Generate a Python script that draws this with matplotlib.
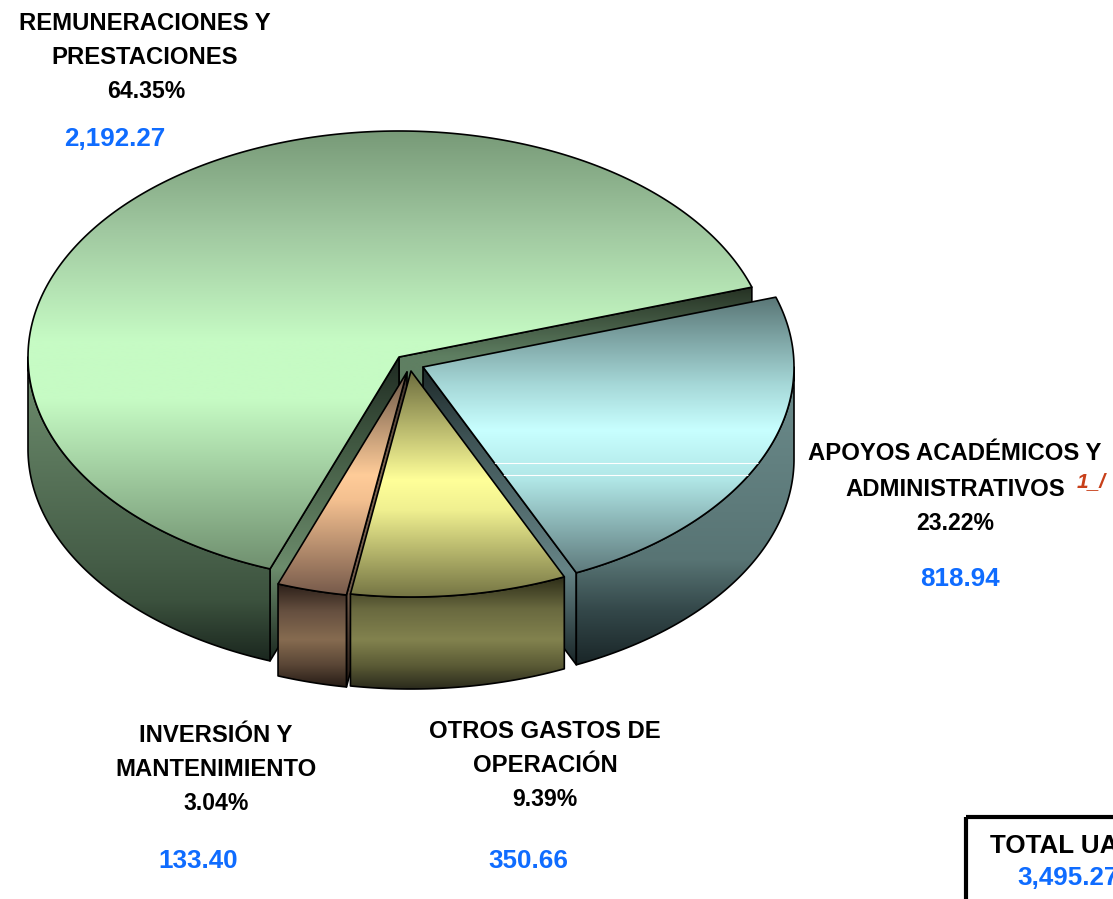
import matplotlib
matplotlib.use('Agg')
import matplotlib.pyplot as plt
import numpy as np
from matplotlib.colors import to_rgb
from matplotlib.patches import Polygon, Rectangle

plt.rcParams['font.family'] = ['Liberation Sans', 'DejaVu Sans']

# data
percents = [64.35, 3.04, 9.39, 23.22]
amounts = ['2,192.27', '133.40', '350.66', '818.94']
total = '3,495.27'

# pie geometry, in pixels
START = 18.0
RX, RY = 371, 226
DEPTH = 92
centers = [(399, 357), (407, 372), (411, 371), (423, 367)]
draw_order = [0, 3, 1, 2]

# colour stops: (pixel y, colour)
top_stops = [
    [(131, '#789a78'), (230, '#a0c8a0'), (340, '#c6fbc4'), (400, '#c6fbc4'), (570, '#6f8f6f')],
    [(372, '#6a5646'), (475, '#ffcc99'), (500, '#f4c090'), (596, '#75594a')],
    [(373, '#6f6f40'), (480, '#ffff99'), (510, '#f0f090'), (599, '#727242')],
    [(298, '#5b7878'), (385, '#a6d8d8'), (430, '#c8ffff'), (480, '#b0e6e6'), (572, '#5f7b7d')],
]
wall_stops = [
    [(357, '#6f8f6f'), (560, '#465e48'), (600, '#3c523e'), (662, '#1a261e')],
    [(584, '#2a1e18'), (612, '#665040'), (640, '#866b50'), (665, '#5a4636'), (688, '#241a14')],
    [(576, '#2a2a16'), (610, '#6a6a40'), (640, '#82824e'), (665, '#5c5c36'), (691, '#26261a')],
    [(368, '#6c8c8c'), (560, '#587474'), (610, '#34484a'), (664, '#1a2628')],
]
# faces at the first and last angle of each slice, None where the face is hidden
cut_start_stops = [
    [(288, '#263224'), (357, '#5f7f62'), (450, '#5f7f62')],
    None,
    None,
    [(368, '#1e2a2a'), (440, '#3f5456'), (570, '#668486'), (664, '#1a2628')],
]
cut_end_stops = [
    [(357, '#1f2a22'), (440, '#3f5640'), (568, '#6c8c6c'), (662, '#1a261e')],
    [(372, '#3a2e28'), (470, '#7e6650'), (595, '#6e5848'), (687, '#241a14')],
    None,
    None,
]

fig, ax = plt.subplots(figsize=(11.13, 8.99), dpi=100)
fig.subplots_adjust(0, 0, 1, 1)
ax.set_xlim(0, 1113)
ax.set_ylim(899, 0)
ax.axis('off')
ax.set_autoscale_on(False)

order = [10]


def draw_shape(verts, stops):
    verts = np.array(verts)
    xmin, ymin = verts.min(axis=0)
    xmax, ymax = verts.max(axis=0)
    rows = np.linspace(ymin, ymax, 300)
    ys = [s[0] for s in stops]
    cols = np.array([to_rgb(s[1]) for s in stops])
    grad = np.stack([np.interp(rows, ys, cols[:, i]) for i in range(3)], axis=1)[:, None, :]
    order[0] += 1
    im = ax.imshow(grad, extent=(xmin, xmax, ymax, ymin), origin='upper', aspect='auto',
                   interpolation='bilinear', zorder=order[0])
    clip = Polygon(verts, closed=True, transform=ax.transData)
    im.set_clip_path(clip)
    order[0] += 1
    ax.add_patch(Polygon(verts, closed=True, fill=False, edgecolor='black', linewidth=1.2,
                         joinstyle='round', zorder=order[0]))


def arc(center, a1, a2):
    t = np.radians(np.linspace(a1, a2, max(int(abs(a2 - a1)) * 2, 2)))
    return np.column_stack([center[0] + RX * np.cos(t), center[1] - RY * np.sin(t)])


# slices go counter clockwise from START
angles = START + np.cumsum([0] + percents) * 3.6
shift = np.array([0, DEPTH])

for i in draw_order:
    a1, a2 = angles[i], angles[i + 1]
    c = np.array(centers[i])

    # cut faces
    for ang, stops in ((a1, cut_start_stops[i]), (a2, cut_end_stops[i])):
        if stops is None:
            continue
        p = arc(c, ang, ang + 0.001)[0]
        draw_shape([c, p, p + shift, c + shift], stops)

    # outer wall, only the front half of the ellipse shows
    w1, w2 = max(a1, 180), min(a2, 360)
    if w2 > w1:
        edge = arc(c, w1, w2)
        draw_shape(np.vstack([edge, (edge + shift)[::-1]]), wall_stops[i])

    # top face
    draw_shape(np.vstack([c, arc(c, a1, a2)]), top_stops[i])

    # two thin white lines on the last slice
    if i == 3:
        clip = Polygon(np.vstack([c, arc(c, a1, a2)]), closed=True, transform=ax.transData)
        for y in (463, 475):
            line, = ax.plot([c[0], c[0] + RX], [y, y], color='white', lw=0.8, zorder=order[0])
            line.set_clip_path(clip)

# labels
black = dict(color='black', fontweight='bold', ha='center', va='center', zorder=100)
blue = dict(color='#0f6cff', fontweight='bold', ha='center', va='center', zorder=100)

ax.text(145, 23, 'REMUNERACIONES Y', fontsize=17.2, **black)
ax.text(145, 57, 'PRESTACIONES', fontsize=17.2, **black)
ax.text(146, 91, f'{percents[0]:.2f}%', fontsize=16.6, **black)
ax.text(115, 139, amounts[0], fontsize=18.7, **blue)

ax.text(955, 454, 'APOYOS ACADÉMICOS Y', fontsize=17.2, **black)
ax.text(955, 489, 'ADMINISTRATIVOS', fontsize=17.2, **black)
ax.text(1091, 482, '1_/', fontsize=15, color='#c8401a', fontweight='bold', style='italic',
        ha='center', va='center', zorder=100)
ax.text(955, 523, f'{percents[3]:.2f}%', fontsize=16.6, **black)
ax.text(960, 579, amounts[3], fontsize=18.7, **blue)

ax.text(216, 736, 'INVERSIÓN Y', fontsize=17.2, **black)
ax.text(216, 770, 'MANTENIMIENTO', fontsize=17.2, **black)
ax.text(216, 804, f'{percents[1]:.2f}%', fontsize=16.6, **black)
ax.text(198, 861, amounts[1], fontsize=18.7, **blue)

ax.text(545, 731, 'OTROS GASTOS DE', fontsize=17.2, **black)
ax.text(545, 765, 'OPERACIÓN', fontsize=17.2, **black)
ax.text(545, 799, f'{percents[2]:.2f}%', fontsize=16.6, **black)
ax.text(528, 861, amounts[2], fontsize=18.7, **blue)

# total box runs off the page
ax.add_patch(Rectangle((966, 817), 300, 200, fill=False, edgecolor='black', linewidth=3, zorder=90))
ax.text(990, 846, 'TOTAL UA', fontsize=18.7, color='black', fontweight='bold', ha='left', va='center', zorder=100)
ax.text(1017, 878, total, fontsize=18.7, color='#0f6cff', fontweight='bold', ha='left', va='center', zorder=100)

plt.savefig('out.png', dpi=100)
